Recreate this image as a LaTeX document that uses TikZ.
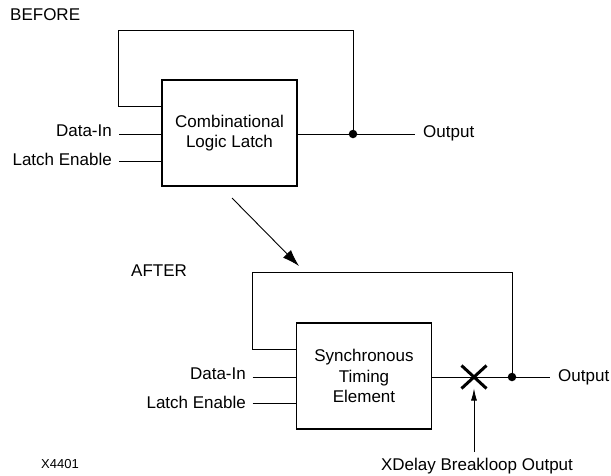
\documentclass[tikz,border=0pt]{standalone}
\usepackage{fontspec}
\setmainfont{Liberation Sans}
\usetikzlibrary{arrows.meta,shapes.misc}
\begin{document}
\begin{tikzpicture}[x=1pt,y=-1pt,
  wire/.style={line width=0.9pt},
  blk/.style={draw,line width=1.5pt,align=center,inner sep=0pt},
  txt/.style={font=\fontsize{17}{20.5}\selectfont},
  lbl/.style={inner sep=0pt},
  dot/.style={circle,fill,inner sep=0pt,minimum size=8.5pt},
  xmark/.style={draw,cross out,line width=3pt,minimum width=22pt,minimum height=20pt,inner sep=0pt},
  bigarrow/.style={wire,-{Latex[length=17pt,width=11pt]}},
  smallarrow/.style={wire,-{Latex[length=12pt,width=6pt]}}
]
\useasboundingbox (0,0) rectangle (611,475);

% ---------- BEFORE ----------
\node[lbl,txt,anchor=base west] (before) at (10,20.5) {BEFORE};
\node[blk,txt,minimum width=135pt,minimum height=106pt] (box1) at (229.5,133) {Combinational\\Logic Latch};
\node[dot] (dot1) at (353,134) {};
\coordinate (l1a) at (118,30);
\coordinate (l1b) at (118,106);
\draw[wire] (dot1.center) -- (dot1.center |- l1a) -- (l1a) -- (l1b) -- (l1b -| box1.west);
\coordinate (o1e) at (415,134);
\draw[wire] (box1.east |- dot1.center) -- (o1e);
\node[lbl,txt,anchor=base west] (out1) at (423,137) {Output};
\node[lbl,txt,anchor=base east] (din1) at (112,136) {Data-In};
\coordinate (din1w) at (119,134);
\draw[wire] (din1w) -- (din1w -| box1.west);
\node[lbl,txt,anchor=base east] (le1) at (112,165.5) {Latch Enable};
\coordinate (le1w) at (119,161);
\draw[wire] (le1w) -- (le1w -| box1.west);

% ---------- transition arrow ----------
\coordinate (a1) at (232,198);
\coordinate (a2) at (299,266);
\draw[bigarrow] (a1) -- (a2);

% ---------- AFTER ----------
\node[lbl,txt,anchor=base west] (after) at (131,276) {AFTER};
\node[blk,txt,minimum width=135pt,minimum height=106pt] (box2) at (364,376) {Synchronous\\Timing\\Element};
\node[dot] (dot2) at (512,377) {};
\node[xmark] (xm) at (474,377) {};
\coordinate (l2a) at (252.5,272);
\coordinate (l2b) at (252.5,349);
\draw[wire] (dot2.center) -- (dot2.center |- l2a) -- (l2a) -- (l2b) -- (l2b -| box2.west);
\coordinate (o2e) at (549.5,377);
\draw[wire] (box2.east |- dot2.center) -- (o2e);
\node[lbl,txt,anchor=base west] (out2) at (558,381) {Output};
\node[lbl,txt,anchor=base east] (din2) at (246,379) {Data-In};
\coordinate (din2w) at (252.5,377);
\draw[wire] (din2w) -- (din2w -| box2.west);
\node[lbl,txt,anchor=base east] (le2) at (246,408) {Latch Enable};
\coordinate (le2w) at (252.5,403);
\draw[wire] (le2w) -- (le2w -| box2.west);
\node[lbl,txt,anchor=base] (xd) at (477,470) {XDelay Breakloop Output};
\coordinate (xdt) at (474,452);
\draw[smallarrow] (xdt) -- (xm.south);
\node[lbl,font=\fontsize{13}{15}\selectfont,anchor=base west] (fig) at (41,468) {X4401};
\end{tikzpicture}
\end{document}
